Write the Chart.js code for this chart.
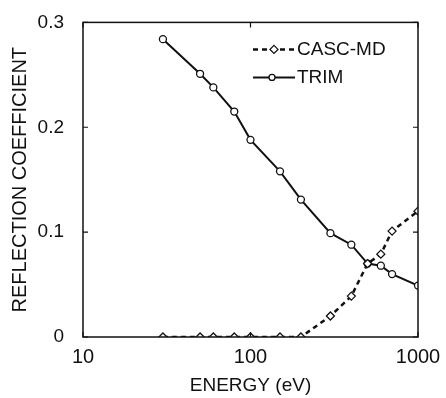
<!DOCTYPE html>
<html>
<head>
<meta charset="utf-8">
<script src="https://cdn.jsdelivr.net/npm/chart.js@4/dist/chart.umd.min.js"></script>
<style>
  html, body { margin: 0; padding: 0; background: #fff; }
  #wrap { width: 446px; height: 398px; position: relative; }
</style>
</head>
<body>
<div id="wrap"><canvas id="chart"></canvas></div>
<script>
// Energies (eV) and reflection coefficients
const energies = [30, 50, 60, 80, 100, 150, 200, 300, 400, 500, 600, 700, 1000];
const trimValues = [0.284, 0.251, 0.238, 0.215, 0.188, 0.158, 0.131, 0.099, 0.088, 0.070, 0.068, 0.060, 0.049];
const cascValues = [0, 0, 0, 0, 0, 0, 0, 0.020, 0.039, 0.070, 0.079, 0.101, 0.120];
const xTicks = [10, 100, 1000];
const yTicks = [0, 0.1, 0.2, 0.3];
const seriesNames = ["CASC-MD", "TRIM"];

const ink = "#111";
const fontFamily = "'Liberation Sans', Arial, Helvetica, sans-serif";

const toPoints = (vals) => energies.map((e, i) => ({ x: e, y: vals[i] }));

// Frame, inward tick marks and the in-plot legend
const framePlugin = {
  id: "frame",
  afterDatasetsDraw(chart) {
    const { ctx, chartArea: a, scales } = chart;
    ctx.save();
    ctx.strokeStyle = ink;
    ctx.lineWidth = 1.5;
    ctx.strokeRect(a.left, a.top, a.right - a.left, a.bottom - a.top);
    ctx.lineWidth = 1.2;
    ctx.beginPath();
    for (const v of yTicks) {
      const y = scales.y.getPixelForValue(v);
      ctx.moveTo(a.left, y); ctx.lineTo(a.left + 5, y);
      ctx.moveTo(a.right, y); ctx.lineTo(a.right - 5, y);
    }
    for (const v of xTicks) {
      const x = scales.x.getPixelForValue(v);
      ctx.moveTo(x, a.bottom); ctx.lineTo(x, a.bottom - 5);
      ctx.moveTo(x, a.top); ctx.lineTo(x, a.top + 5);
    }
    ctx.stroke();

    // legend
    const lx = a.left + 170, rows = [a.top + 27, a.top + 55];
    ctx.font = "19px " + fontFamily;
    ctx.fillStyle = ink;
    ctx.textBaseline = "middle";
    chart.data.datasets.forEach((ds, i) => {
      const y = rows[i];
      ctx.lineWidth = ds.borderWidth;
      ctx.setLineDash(ds.borderDash || []);
      ctx.beginPath();
      ctx.moveTo(lx, y); ctx.lineTo(lx + 42, y);
      ctx.stroke();
      ctx.setLineDash([]);
      ctx.lineWidth = 1.3;
      ctx.beginPath();
      if (ds.pointStyle === "rectRot") {
        ctx.moveTo(lx + 21, y - 4); ctx.lineTo(lx + 25, y);
        ctx.lineTo(lx + 21, y + 4); ctx.lineTo(lx + 17, y);
        ctx.closePath();
      } else {
        ctx.arc(lx + 19, y, 3, 0, Math.PI * 2);
      }
      ctx.fillStyle = "#fff";
      ctx.fill();
      ctx.stroke();
      ctx.fillStyle = ink;
      ctx.fillText(ds.label, lx + 44, y);
    });
    ctx.restore();
  }
};

new Chart(document.getElementById("chart"), {
  type: "line",
  plugins: [framePlugin],
  data: {
    datasets: [
      {
        label: seriesNames[0],
        data: toPoints(cascValues),
        borderColor: ink,
        borderWidth: 2.5,
        borderDash: [5, 4],
        pointStyle: "rectRot",
        pointRadius: 4,
        pointBorderWidth: 1.3,
        pointBackgroundColor: "#fff",
        pointBorderColor: ink,
        tension: 0
      },
      {
        label: seriesNames[1],
        data: toPoints(trimValues),
        borderColor: ink,
        borderWidth: 2,
        pointStyle: "circle",
        pointRadius: 3.5,
        pointBorderWidth: 1.3,
        pointBackgroundColor: "#fff",
        pointBorderColor: ink,
        tension: 0
      }
    ]
  },
  options: {
    responsive: true,
    maintainAspectRatio: false,
    animation: false,
    layout: { padding: { top: 16, right: 28, left: 0, bottom: 0 } },
    plugins: {
      legend: { display: false },
      tooltip: { enabled: false }
    },
    scales: {
      x: {
        type: "logarithmic",
        min: 10,
        max: 1000,
        grid: { display: false },
        border: { display: false },
        afterBuildTicks: (scale) => { scale.ticks = xTicks.map((v) => ({ value: v })); },
        afterFit: (scale) => { scale.height = 61; },
        ticks: {
          color: ink,
          padding: 0,
          maxRotation: 0,
          font: { family: fontFamily, size: 20 },
          callback: (v) => String(v)
        },
        title: {
          display: true,
          text: "ENERGY (eV)",
          color: ink,
          font: { family: fontFamily, size: 19 },
          padding: { top: 0, bottom: 1 }
        }
      },
      y: {
        min: 0,
        max: 0.3,
        grid: { display: false },
        border: { display: false },
        afterBuildTicks: (scale) => { scale.ticks = yTicks.map((v) => ({ value: v })); },
        afterFit: (scale) => { scale.width = 83; },
        ticks: {
          color: ink,
          padding: 11,
          font: { family: fontFamily, size: 19 },
          callback: (v) => (v === 0 ? "0" : v.toFixed(1))
        },
        title: {
          display: true,
          text: "REFLECTION COEFFICIENT",
          color: ink,
          font: { family: fontFamily, size: 20 },
          padding: { top: 8, bottom: 0 }
        }
      }
    }
  }
});
</script>
</body>
</html>
